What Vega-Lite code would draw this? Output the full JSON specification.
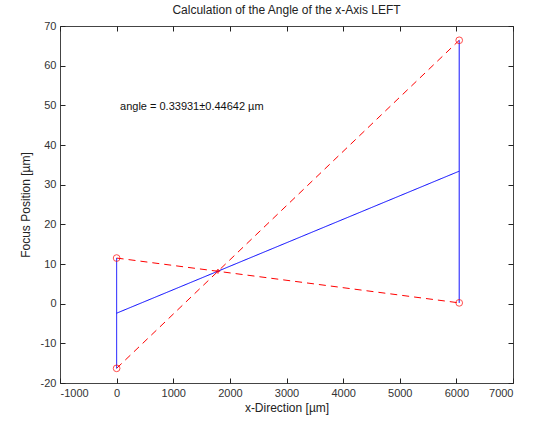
{
  "$schema": "https://vega.github.io/schema/vega-lite/v6.json",
  "autosize": "none",
  "width": 453,
  "height": 357,
  "padding": {"left": 60, "top": 26, "right": 23, "bottom": 47},
  "background": "white",
  "title": {
    "text": "Calculation of the Angle of the x-Axis LEFT",
    "font": "Liberation Sans",
    "fontSize": 12,
    "fontWeight": "normal",
    "color": "#222",
    "offset": 3,
    "anchor": "middle"
  },
  "config": {
    "view": {"stroke": "#444", "strokeWidth": 1},
    "axis": {
      "grid": false,
      "domain": false,
      "tickColor": "#222",
      "tickSize": -5,
      "labelFont": "Liberation Sans",
      "labelFontSize": 11,
      "labelColor": "#333",
      "labelExpr": "replace(datum.label, '−', '-')",
      "titleFont": "Liberation Sans",
      "titleFontSize": 12,
      "titleFontWeight": "normal",
      "titleColor": "#222"
    }
  },
  "datasets": {
    "segments": [
      {"x": 0, "y": 11.5, "seg": "r1", "kind": "fit"},
      {"x": 6050, "y": 0.2, "seg": "r1", "kind": "fit"},
      {"x": 0, "y": -16.3, "seg": "r2", "kind": "fit"},
      {"x": 6050, "y": 66.4, "seg": "r2", "kind": "fit"},
      {"x": 0, "y": -2.4, "seg": "b1", "kind": "mean"},
      {"x": 6050, "y": 33.4, "seg": "b1", "kind": "mean"},
      {"x": 0, "y": -16.3, "seg": "b2", "kind": "mean"},
      {"x": 0, "y": 11.5, "seg": "b2", "kind": "mean"},
      {"x": 6050, "y": 0.2, "seg": "b3", "kind": "mean"},
      {"x": 6050, "y": 66.4, "seg": "b3", "kind": "mean"}
    ],
    "ends": [
      {"x": 0, "y": 11.5},
      {"x": 0, "y": -16.3},
      {"x": 6050, "y": 0.2},
      {"x": 6050, "y": 66.4}
    ],
    "crossing": [{"x": 1789, "y": 8.2}],
    "note": [{"x": 60, "y": 49.6, "label": "angle = 0.33931±0.44642 µm"}]
  },
  "resolve": {"axis": {"x": "independent", "y": "independent"}},
  "layer": [
    {
      "data": {"name": "segments"},
      "mark": {"type": "line", "strokeWidth": 1, "clip": true},
      "encoding": {
        "x": {
          "field": "x", "type": "quantitative",
          "scale": {"domain": [-1000, 7000], "nice": false, "zero": false},
          "axis": {"title": "x-Direction [µm]", "values": [-1000, 0, 1000, 2000, 3000, 4000, 5000, 6000, 7000], "labelPadding": 9, "titlePadding": 4, "format": "d"}
        },
        "y": {
          "field": "y", "type": "quantitative",
          "scale": {"domain": [-20, 70], "nice": false, "zero": false},
          "axis": {"title": "Focus Position [µm]", "values": [-20, -10, 0, 10, 20, 30, 40, 50, 60, 70], "labelPadding": 9, "titlePadding": 8}
        },
        "detail": {"field": "seg"},
        "color": {
          "field": "kind", "type": "nominal",
          "scale": {"domain": ["fit", "mean"], "range": ["#ff0000", "#0000ff"]},
          "legend": null
        },
        "strokeDash": {
          "field": "kind", "type": "nominal",
          "scale": {"domain": ["fit", "mean"], "range": [[7, 5], [1, 0]]},
          "legend": null
        }
      }
    },
    {
      "data": {"name": "ends"},
      "mark": {"type": "point", "shape": "circle", "size": 45, "filled": false, "color": "#ff0000", "strokeWidth": 1},
      "encoding": {
        "x": {
          "field": "x", "type": "quantitative",
          "axis": {"orient": "top", "labels": false, "title": null, "values": [-1000, 0, 1000, 2000, 3000, 4000, 5000, 6000, 7000]}
        },
        "y": {
          "field": "y", "type": "quantitative",
          "axis": {"orient": "right", "labels": false, "title": null, "values": [-20, -10, 0, 10, 20, 30, 40, 50, 60, 70]}
        }
      }
    },
    {
      "data": {"name": "crossing"},
      "mark": {"type": "point", "shape": "cross", "size": 20, "filled": true, "color": "#ff0000"},
      "encoding": {
        "x": {"field": "x", "type": "quantitative", "axis": null},
        "y": {"field": "y", "type": "quantitative", "axis": null}
      }
    },
    {
      "data": {"name": "note"},
      "mark": {"type": "text", "align": "left", "baseline": "middle", "font": "Liberation Sans", "fontSize": 11, "color": "#111"},
      "encoding": {
        "x": {"field": "x", "type": "quantitative", "axis": null},
        "y": {"field": "y", "type": "quantitative", "axis": null},
        "text": {"field": "label"}
      }
    }
  ]
}
